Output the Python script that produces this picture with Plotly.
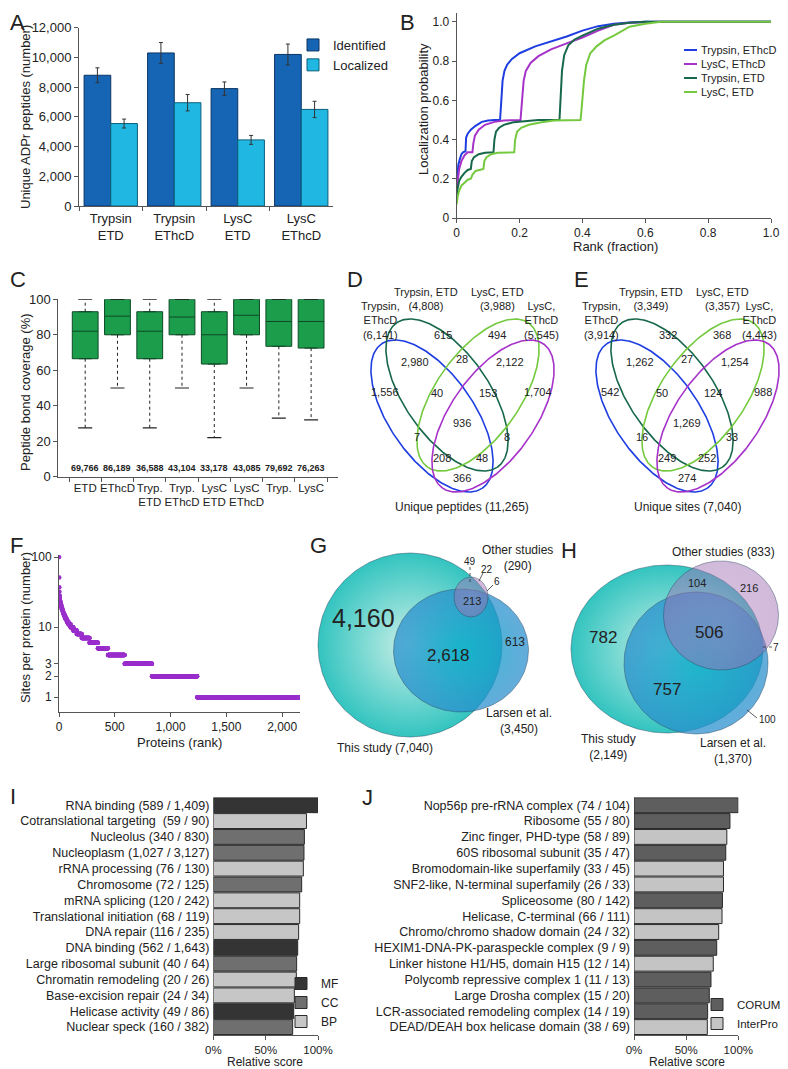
import numpy as np
import plotly.graph_objects as go

W, H = 788, 1069
OFF = 8  # the page body adds an 8px margin; positions below are reference pixels
FONT = "Liberation Sans, Arial, Helvetica, sans-serif"
INK = "#222222"
AX = "#555555"

# ---------------- A: unique ADPr peptides ----------------
a_groups = ["Trypsin<br>ETD", "Trypsin<br>EThcD", "LysC<br>ETD", "LysC<br>EThcD"]
a_identified = [8800, 10300, 7900, 10200]
a_identified_err = [500, 700, 450, 700]
a_localized = [5550, 6950, 4450, 6500]
a_localized_err = [300, 550, 300, 550]

# ---------------- B: localization probability curves ----------------
b_names = ["Trypsin, EThcD", "LysC, EThcD", "Trypsin, ETD", "LysC, ETD"]
b_colors = ["#1f3ee0", "#a633c9", "#17684a", "#74c93f"]
b_x_tryp_ethcd = [0, 0.002, 0.005, 0.01, 0.015, 0.02, 0.028, 0.03, 0.035, 0.045, 0.06, 0.08, 0.1, 0.12,
                  0.138, 0.14, 0.142, 0.146, 0.152, 0.16, 0.175, 0.2, 0.25, 0.3, 0.35, 0.4, 0.45, 0.5,
                  0.55, 0.6, 1.0]
b_y_tryp_ethcd = [0.15, 0.22, 0.27, 0.3, 0.325, 0.335, 0.34, 0.41, 0.43, 0.45, 0.47, 0.49, 0.497, 0.5,
                  0.5, 0.55, 0.62, 0.7, 0.75, 0.78, 0.81, 0.84, 0.875, 0.9, 0.925, 0.955, 0.978, 0.99,
                  0.997, 1.0, 1.0]
b_x_lysc_ethcd = [0, 0.003, 0.008, 0.015, 0.025, 0.035, 0.05, 0.053, 0.058, 0.07, 0.09, 0.12, 0.15,
                  0.203, 0.205, 0.208, 0.213, 0.22, 0.235, 0.26, 0.3, 0.35, 0.4, 0.45, 0.5, 0.55, 0.6,
                  0.65, 1.0]
b_y_lysc_ethcd = [0.15, 0.2, 0.25, 0.29, 0.32, 0.335, 0.335, 0.38, 0.42, 0.45, 0.475, 0.49, 0.497,
                  0.5, 0.55, 0.62, 0.7, 0.75, 0.79, 0.825, 0.86, 0.89, 0.92, 0.955, 0.985, 0.995, 0.998,
                  1.0, 1.0]
b_x_tryp_etd = [0, 0.003, 0.008, 0.015, 0.025, 0.035, 0.045, 0.048, 0.055, 0.07, 0.09, 0.117, 0.12,
                0.125, 0.135, 0.15, 0.18, 0.22, 0.26, 0.327, 0.329, 0.331, 0.335, 0.342, 0.355, 0.375,
                0.4, 0.45, 0.5, 0.55, 0.6, 1.0]
b_y_tryp_etd = [0.1, 0.15, 0.19, 0.21, 0.23, 0.245, 0.25, 0.29, 0.31, 0.325, 0.333, 0.335, 0.4,
                0.44, 0.46, 0.475, 0.488, 0.495, 0.5, 0.5, 0.55, 0.65, 0.75, 0.83, 0.88, 0.91,
                0.93, 0.965, 0.985, 0.995, 1.0, 1.0]
b_x_lysc_etd = [0, 0.003, 0.008, 0.015, 0.025, 0.035, 0.045, 0.05, 0.06, 0.07, 0.085, 0.088, 0.095,
                0.11, 0.13, 0.183, 0.186, 0.192, 0.205, 0.23, 0.27, 0.31, 0.394, 0.397, 0.4, 0.405,
                0.412, 0.425, 0.445, 0.47, 0.5, 0.55, 0.6, 0.65, 1.0]
b_y_lysc_etd = [0.07, 0.11, 0.14, 0.165, 0.18, 0.195, 0.2, 0.22, 0.24, 0.245, 0.25, 0.29, 0.31,
                0.325, 0.333, 0.335, 0.4, 0.44, 0.46, 0.475, 0.488, 0.497, 0.5, 0.55, 0.62, 0.7,
                0.78, 0.84, 0.875, 0.905, 0.93, 0.975, 0.99, 1.0, 1.0]

# ---------------- C: peptide bond coverage ----------------
c_labels = ["ETD", "EThcD", "Tryp.<br>ETD", "Tryp.<br>EThcD", "LysC<br>ETD", "LysC<br>EThcD", "Tryp.", "LysC"]
c_low = [27.5, 50, 27.5, 50, 22, 50, 33, 32]
c_q1 = [66.5, 80, 66.5, 80, 63.5, 80, 73.5, 72.5]
c_median = [82, 90.5, 82, 90, 80, 91, 87.5, 87.5]
c_q3 = [93, 100, 93, 100, 93, 100, 100, 100]
c_high = [100, 100, 100, 100, 100, 100, 100, 100]
c_counts = [69766, 86189, 36588, 43104, 33178, 43085, 79692, 76263]

# ---------------- D / E: four-set Venn counts ----------------
venn_sets = ["Trypsin,<br>EThcD", "Trypsin, ETD", "LysC, ETD", "LysC,<br>EThcD"]
d_set_sizes = [6141, 4808, 3988, 5545]
e_set_sizes = [3914, 3349, 3357, 4443]
# regions: 1, 2, 3, 4, 12, 23, 34, 14, 123, 234, 13, 24, 134, 124, 1234
d_regions = [1556, 615, 494, 1704, 2980, 28, 2122, 366, 40, 153, 7, 8, 208, 48, 936]
e_regions = [542, 332, 368, 988, 1262, 27, 1254, 274, 50, 124, 16, 33, 249, 252, 1269]
d_total = 11265
e_total = 7040

# ---------------- F: sites per protein ----------------
f_sites = [100, 51, 37, 32, 28, 26, 24, 23, 22, 21, 20, 19, 18, 17, 16, 15, 14, 13, 12, 11,
           10, 9, 8, 7, 6, 5, 4, 3, 2, 1]
f_proteins = [1, 1, 1, 1, 2, 2, 2, 2, 3, 3, 4, 4, 5, 5, 6, 8, 9, 11, 14, 19,
              25, 30, 45, 70, 75, 90, 150, 245, 405, 911]

# ---------------- G / H: overlap with other studies ----------------
g_counts = {"this": 4160, "this_larsen": 2618, "larsen": 613, "all": 213,
            "this_other": 49, "other": 22, "larsen_other": 6}
g_totals = {"this": 7040, "larsen": 3450, "other": 290}
h_counts = {"this": 782, "this_larsen": 757, "larsen": 100, "all": 506,
            "this_other": 104, "other": 216, "larsen_other": 7}
h_totals = {"this": 2149, "larsen": 1370, "other": 833}

# ---------------- I: GO term enrichment ----------------
i_terms = ["RNA binding (589 / 1,409)", "Cotranslational targeting  (59 / 90)", "Nucleolus (340 / 830)",
           "Nucleoplasm (1,027 / 3,127)", "rRNA processing (76 / 130)", "Chromosome (72 / 125)",
           "mRNA splicing (120 / 242)", "Translational initiation (68 / 119)", "DNA repair (116 / 235)",
           "DNA binding (562 / 1,643)", "Large ribosomal subunit (40 / 64)", "Chromatin remodeling (20 / 26)",
           "Base-excision repair (24 / 34)", "Helicase activity (49 / 86)", "Nuclear speck (160 / 382)"]
i_scores = [100, 89, 87, 86.6, 86, 84.4, 82.5, 82.5, 81.5, 80.6, 79.6, 79.3, 77.4, 76.8, 75.8]
i_types = ["MF", "BP", "CC", "CC", "BP", "CC", "BP", "BP", "BP", "MF", "CC", "BP", "BP", "MF", "CC"]
i_type_order = ["MF", "CC", "BP"]

# ---------------- J: complexes / domains ----------------
j_terms = ["Nop56p pre-rRNA complex (74 / 104)", "Ribosome (55 / 80)", "Zinc finger, PHD-type (58 / 89)",
           "60S ribosomal subunit (35 / 47)", "Bromodomain-like superfamily (33 / 45)",
           "SNF2-like, N-terminal superfamily (26 / 33)", "Spliceosome (80 / 142)",
           "Helicase, C-terminal (66 / 111)", "Chromo/chromo shadow domain (24 / 32)",
           "HEXIM1-DNA-PK-paraspeckle complex (9 / 9)", "Linker histone H1/H5, domain H15 (12 / 14)",
           "Polycomb repressive complex 1 (11 / 13)", "Large Drosha complex (15 / 20)",
           "LCR-associated remodeling complex (14 / 19)", "DEAD/DEAH box helicase domain (38 / 69)"]
j_scores = [100, 92, 89, 88, 85.8, 85.8, 84.8, 84.4, 81.2, 79.3, 76, 73.8, 72.2, 70.6, 70.3]
j_types = ["CORUM", "CORUM", "InterPro", "CORUM", "InterPro", "InterPro", "CORUM", "InterPro",
           "InterPro", "CORUM", "InterPro", "CORUM", "CORUM", "CORUM", "InterPro"]
j_type_order = ["CORUM", "InterPro"]


def px_x(v):
    return max(0.0, (v - OFF) / W)


def px_y(v):
    return min(1.0, 1 - (v - OFF) / H)


def ellipse(cx, cy, a, b, deg, n=240):
    t = np.linspace(0, 2 * np.pi, n)
    th = np.radians(deg)
    x = cx + a * np.cos(t) * np.cos(th) - b * np.sin(t) * np.sin(th)
    y = cy + a * np.cos(t) * np.sin(th) + b * np.sin(t) * np.cos(th)
    return x, y


fig = go.Figure()
ann = []


def label(x, y, text, size=11, ref="canvas", **kw):
    d = dict(x=x, y=y, text=text, showarrow=False, xanchor="center", yanchor="middle",
             font=dict(family=FONT, size=size, color=INK))
    if ref == "canvas":
        d.update(xref="x7", yref="y7")
    elif ref == "paper":
        d.update(xref="paper", yref="paper", x=px_x(x), y=px_y(y))
    else:
        d.update(xref=ref[0], yref=ref[1])
    d.update(kw)
    ann.append(d)


shapes = []

# ---- A
fig.add_trace(go.Bar(x=a_groups, y=a_identified, name="Identified", legend="legend",
                     marker=dict(color="#1664b4", line=dict(color="#0b3563", width=1)),
                     error_y=dict(type="data", array=a_identified_err, color="#333", thickness=1, width=2),
                     xaxis="x", yaxis="y"))
fig.add_trace(go.Bar(x=a_groups, y=a_localized, name="Localized", legend="legend",
                     marker=dict(color="#20b8e2", line=dict(color="#0b5f7a", width=1)),
                     error_y=dict(type="data", array=a_localized_err, color="#333", thickness=1, width=2),
                     xaxis="x", yaxis="y"))

# ---- B (compact legend drawn as line keys + labels)
b_series = [(b_x_tryp_ethcd, b_y_tryp_ethcd), (b_x_lysc_ethcd, b_y_lysc_ethcd),
            (b_x_tryp_etd, b_y_tryp_etd), (b_x_lysc_etd, b_y_lysc_etd)]
for k, (name, col, (bx, by)) in enumerate(zip(b_names, b_colors, b_series)):
    fig.add_trace(go.Scatter(x=bx, y=by, name=name, mode="lines", showlegend=False,
                             line=dict(color=col, width=2), xaxis="x2", yaxis="y2"))
    ky = 50 + 14 * k
    shapes.append(dict(type="line", xref="x7", yref="y7", x0=684, x1=697, y0=ky, y1=ky,
                       line=dict(color=col, width=2)))
    label(699, ky, name, size=11, xanchor="left")

# ---- C
fig.add_trace(go.Box(x=c_labels, q1=c_q1, median=c_median, q3=c_q3, lowerfence=c_q1, upperfence=c_q3,
                     fillcolor="#1c9d4c", line=dict(color="#0d4a26", width=1), width=0.8,
                     showlegend=False, xaxis="x3", yaxis="y3"))
wx, wy = [], []
for lab, lo, q1, q3, hi in zip(c_labels, c_low, c_q1, c_q3, c_high):
    wx += [lab, lab, None, lab, lab, None]
    wy += [q1, lo, None, q3, hi, None]
fig.add_trace(go.Scatter(x=wx, y=wy, mode="lines", line=dict(color="#222", width=1, dash="dot"),
                         showlegend=False, xaxis="x3", yaxis="y3", hoverinfo="skip"))
fig.add_trace(go.Scatter(x=c_labels + c_labels, y=c_low + c_high, mode="markers",
                         marker=dict(symbol="line-ew", size=10, line=dict(color="#222", width=1.2)),
                         showlegend=False, xaxis="x3", yaxis="y3", hoverinfo="skip"))
for lab, n in zip(c_labels, c_counts):
    label(lab, 5, "<b>{:,}</b>".format(n), size=9, ref=("x3", "y3"))

# ---- F
f_y = np.repeat(f_sites, f_proteins)
f_x = np.arange(1, len(f_y) + 1)
fig.add_trace(go.Scatter(x=f_x, y=f_y, mode="markers", showlegend=False,
                         marker=dict(color="#9a2fcc", size=4.5, line=dict(width=0)),
                         xaxis="x4", yaxis="y4"))

# ---- I
for t in i_type_order:
    col = {"MF": "#343434", "CC": "#6f6f6f", "BP": "#c6c6c6"}[t]
    ys = [term for term, ty in zip(i_terms, i_types) if ty == t]
    xs = [s for s, ty in zip(i_scores, i_types) if ty == t]
    fig.add_trace(go.Bar(x=xs, y=ys, orientation="h", name=t, legend="legend3", offsetgroup="I",
                         width=0.94, offset=-0.47,
                         marker=dict(color=col, line=dict(color="#2a2a2a", width=1)),
                         xaxis="x5", yaxis="y5"))

# ---- J
for t in j_type_order:
    col = {"CORUM": "#5e5e5e", "InterPro": "#c4c4c4"}[t]
    ys = [term for term, ty in zip(j_terms, j_types) if ty == t]
    xs = [s for s, ty in zip(j_scores, j_types) if ty == t]
    fig.add_trace(go.Bar(x=xs, y=ys, orientation="h", name=t, legend="legend4", offsetgroup="J",
                         width=0.94, offset=-0.47,
                         marker=dict(color=col, line=dict(color="#2a2a2a", width=1)),
                         xaxis="x6", yaxis="y6"))

# ---- D / E Venn diagrams (canvas coordinates in reference px)
venn_shapes = [(432, 416, 55), (447, 395, 55), (478, 395, 125), (493, 416, 125)]
venn_colors = ["#1f3ee0", "#17684a", "#74c93f", "#a633c9"]
region_pos = [(385, 392), (443, 335), (497, 335), (538, 392), (415, 362), (462, 359), (510, 362),
              (462, 478), (437, 393), (488, 393), (417, 437), (507, 437), (442, 458), (482, 458),
              (462, 423)]
d_set_pos = [(380, 320), (426, 299), (497, 299), (541, 320)]
e_set_pos = [(601, 320), (651, 299), (722, 299), (759, 320)]
for dx, regions, sizes, set_pos, total_txt in [
        (0, d_regions, d_set_sizes, d_set_pos, "Unique peptides ({:,})".format(d_total)),
        (225, e_regions, e_set_sizes, e_set_pos, "Unique sites ({:,})".format(e_total))]:
    for (cx, cy, ang), col in zip(venn_shapes, venn_colors):
        ex, ey = ellipse(cx + dx, cy, 88, 42, ang)
        fig.add_trace(go.Scatter(x=ex, y=ey, mode="lines", line=dict(color=col, width=1.6),
                                 showlegend=False, hoverinfo="skip", xaxis="x7", yaxis="y7"))
    for (px, py), n in zip(region_pos, regions):
        label(px + dx, py, "{:,}".format(n), size=11)
    for (px, py), nm, n in zip(set_pos, venn_sets, sizes):
        label(px, py, "{}<br>({:,})".format(nm, n), size=11)
    label(462 + dx, 507, total_txt, size=12)

# ---- G / H Euler diagrams
euler_styles = [
    ("this", [[0, "#c9efe7"], [1, "#33c4c0"]]),
    ("larsen", [[0, "rgba(0,172,200,0.8)"], [1, "rgba(40,140,205,0.72)"]]),
    ("other", [[0, "rgba(175,125,190,0.48)"], [1, "rgba(160,110,180,0.48)"]]),
]
g_geom = {"this": (410, 645, 92, 92), "larsen": (461, 650.5, 67.5, 61.5), "other": (471, 597, 17, 20)}
h_geom = {"this": (667, 649, 96, 84), "larsen": (696, 663, 72, 71), "other": (721, 615.5, 57.5, 54.5)}
for geom in (g_geom, h_geom):
    for key, cs in euler_styles:
        cx, cy, rx, ry = geom[key]
        ex, ey = ellipse(cx, cy, rx, ry, 0)
        fig.add_trace(go.Scatter(x=ex, y=ey, mode="lines", fill="toself",
                                 fillgradient=dict(type="radial", colorscale=cs),
                                 line=dict(color="rgba(40,70,90,0.55)", width=0.8),
                                 showlegend=False, hoverinfo="skip", xaxis="x7", yaxis="y7"))

label(363, 618, "{:,}".format(g_counts["this"]), size=25)
label(448, 655, "{:,}".format(g_counts["this_larsen"]), size=17)
label(515, 642, "{:,}".format(g_counts["larsen"]), size=12)
label(472, 601, "{:,}".format(g_counts["all"]), size=11)
label(470, 561, "{:,}".format(g_counts["this_other"]), size=10)
label(487, 569, "{:,}".format(g_counts["other"]), size=10)
label(497, 581, "{:,}".format(g_counts["larsen_other"]), size=10)
label(517, 558, "Other studies<br>({:,})".format(g_totals["other"]), size=12)
label(519, 721, "Larsen et al.<br>({:,})".format(g_totals["larsen"]), size=12)
label(385, 748, "This study ({:,})".format(g_totals["this"]), size=12)

label(603, 637, "{:,}".format(h_counts["this"]), size=17)
label(709, 632, "{:,}".format(h_counts["all"]), size=17)
label(667, 689, "{:,}".format(h_counts["this_larsen"]), size=17)
label(697, 583, "{:,}".format(h_counts["this_other"]), size=11)
label(749, 588, "{:,}".format(h_counts["other"]), size=11)
label(776, 647, "{:,}".format(h_counts["larsen_other"]), size=10)
label(767, 719, "{:,}".format(h_counts["larsen"]), size=10)
label(723, 552, "Other studies ({:,})".format(h_totals["other"]), size=12)
label(608, 747, "This study<br>({:,})".format(h_totals["this"]), size=12)
label(733, 751, "Larsen et al.<br>({:,})".format(h_totals["larsen"]), size=12)

for x0, y0, x1, y1, dash in [(470, 567, 470, 584, "dot"), (483, 573, 479, 581, "solid"),
                             (493, 585, 487, 591, "solid"), (763, 647, 772, 647, "dot"),
                             (747, 710, 757, 718, "solid")]:
    shapes.append(dict(type="line", xref="x7", yref="y7", x0=x0, y0=y0, x1=x1, y1=y1,
                       line=dict(color="#333", width=0.8, dash=dash)))

# ---- panel letters and axis titles
for letter, x, y in [("A", 9, 14), ("B", 407, 14), ("C", 9, 280), ("D", 355, 280), ("E", 581, 280),
                     ("F", 8, 545), ("G", 318, 545), ("H", 569, 550), ("I", 4, 796), ("J", 367, 797)]:
    kw = {}
    if x < 20:
        kw["xanchor"] = "left"
        x = OFF
    if y < 20:
        kw["yanchor"] = "top"
        y = OFF
    label(x, y, letter, size=22, ref="paper", **kw)

label(25, 117, "Unique ADPr peptides (number)", size=13, ref="paper", textangle=-90)
label(423, 109, "Localization probability", size=13, ref="paper", textangle=-90)
label(615, 246, "Rank (fraction)", size=13, ref="paper")
label(25, 392, "Peptide bond coverage (%)", size=13, ref="paper", textangle=-90)
label(25, 628, "Sites per protein (number)", size=13, ref="paper", textangle=-90)
label(179, 742, "Proteins (rank)", size=13, ref="paper")
label(265, 1062, "Relative score", size=12, ref="paper")
label(687, 1062, "Relative score", size=12, ref="paper")

axis_common = dict(showline=True, linecolor=AX, linewidth=1, ticks="outside", tickcolor=AX,
                   ticklen=4, showgrid=False, zeroline=False, automargin=False, tickangle=0,
                   tickfont=dict(family=FONT, size=12, color=INK))
cat_axis = dict(showline=False, ticks="", showgrid=False, zeroline=False, automargin=False,
                autorange="reversed", categoryorder="array",
                tickfont=dict(family=FONT, size=12.5, color=INK), ticklabelstandoff=3)
pct_font = dict(family=FONT, size=11.5, color=INK)

layout = dict(
    width=W, height=H, margin=dict(l=0, r=0, t=0, b=0),
    paper_bgcolor="white", plot_bgcolor="rgba(0,0,0,0)",
    font=dict(family=FONT, color=INK),
    barmode="group", bargap=0.16, bargroupgap=0,
    xaxis=dict(axis_common, anchor="y", domain=[px_x(79), px_x(333)], tickson="boundaries",
               tickfont=dict(family=FONT, size=13, color=INK)),
    yaxis=dict(axis_common, anchor="x", domain=[px_y(206), px_y(27.7)], range=[0, 12000], dtick=2000,
               tickformat=",", tickfont=dict(family=FONT, size=13, color=INK)),
    xaxis2=dict(axis_common, anchor="y2", domain=[px_x(456.7), px_x(771)], range=[0, 1],
                tickvals=[0, 0.2, 0.4, 0.6, 0.8, 1.0], ticktext=["0", "0.2", "0.4", "0.6", "0.8", "1.0"]),
    yaxis2=dict(axis_common, anchor="x2", domain=[px_y(218), px_y(13)], range=[0, 1.045],
                tickvals=[0, 0.2, 0.4, 0.6, 0.8, 1.0], ticktext=["0", "0.2", "0.4", "0.6", "0.8", "1.0"]),
    xaxis3=dict(axis_common, anchor="y3", domain=[px_x(58.3), px_x(338)], tickson="boundaries",
                tickfont=dict(family=FONT, size=11.5, color=INK)),
    yaxis3=dict(axis_common, anchor="x3", domain=[px_y(476.7), px_y(299.3)], range=[0, 100], dtick=20,
                tickfont=dict(family=FONT, size=13, color=INK)),
    xaxis4=dict(axis_common, anchor="y4", domain=[px_x(59), px_x(300)], range=[0, 2160],
                tickvals=[0, 500, 1000, 1500, 2000], tickformat=","),
    yaxis4=dict(axis_common, anchor="x4", type="log", domain=[px_y(711.7), px_y(555)],
                range=[-0.206, 2.03], tickvals=[1, 2, 3, 10, 100], ticktext=["1", "2", "3", "10", "100"]),
    xaxis5=dict(axis_common, anchor="y5", domain=[px_x(213.3), px_x(318)], range=[0, 100],
                tickvals=[0, 50, 100], ticktext=["0%", "50%", "100%"], tickfont=pct_font),
    yaxis5=dict(cat_axis, anchor="x5", domain=[px_y(1035), px_y(797.3)], categoryarray=i_terms),
    xaxis6=dict(axis_common, anchor="y6", domain=[px_x(634), px_x(738.3)], range=[0, 100],
                tickvals=[0, 50, 100], ticktext=["0%", "50%", "100%"], tickfont=pct_font),
    yaxis6=dict(cat_axis, anchor="x6", domain=[px_y(1035), px_y(797.3)], categoryarray=j_terms),
    xaxis7=dict(anchor="y7", domain=[0, 1], range=[OFF, W + OFF], visible=False, fixedrange=True),
    yaxis7=dict(anchor="x7", domain=[0, 1], range=[H + OFF, OFF], visible=False, fixedrange=True),
    legend=dict(x=px_x(293), y=px_y(30), xanchor="left", yanchor="top", bgcolor="rgba(0,0,0,0)",
                font=dict(family=FONT, size=13, color=INK)),
    legend3=dict(x=px_x(281), y=px_y(969), xanchor="left", yanchor="top", bgcolor="rgba(0,0,0,0)",
                 font=dict(family=FONT, size=12, color=INK)),
    legend4=dict(x=px_x(697), y=px_y(990), xanchor="left", yanchor="top", bgcolor="rgba(0,0,0,0)",
                 font=dict(family=FONT, size=11.5, color=INK)),
    annotations=ann,
    shapes=shapes,
)
fig.update_layout(layout)
fig.write_html("out.html")
